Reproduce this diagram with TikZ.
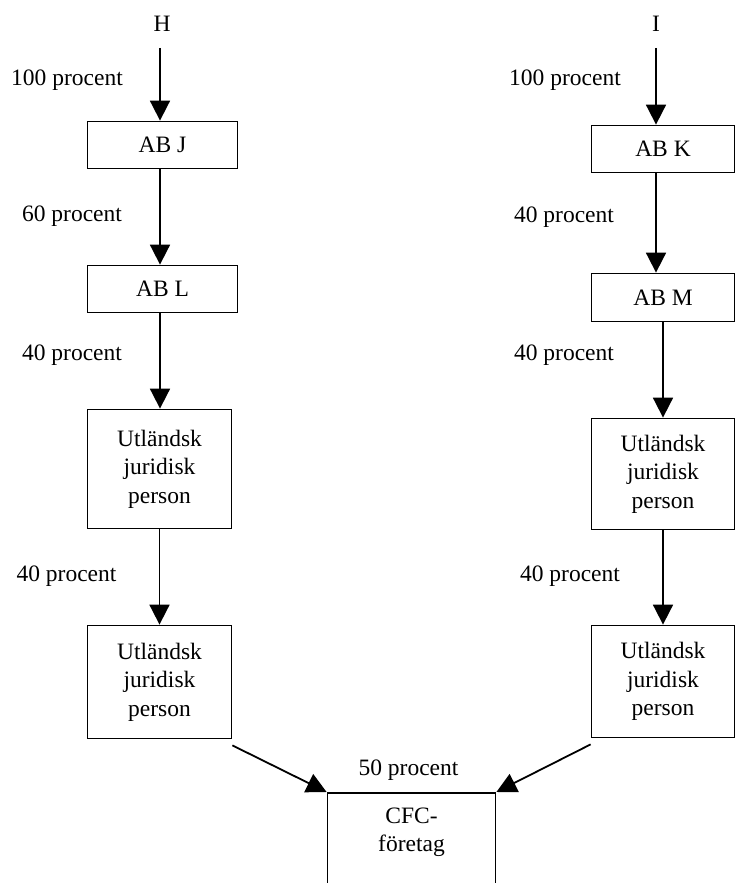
\documentclass[tikz,border=0pt]{standalone}
\usepackage{fontspec}
\setmainfont{Liberation Serif}
\usetikzlibrary{arrows.meta,calc}
\begin{document}
\begin{tikzpicture}[x=1pt,y=-1pt,
  every node/.style={font=\fontsize{23.5}{28.5}\selectfont},
  box/.style={draw,line width=1.8pt,inner sep=0pt,align=center},
  lbl/.style={inner sep=0pt,align=center},
  conn/.style={line width=1.8pt,-{Triangle[length=20pt,width=20pt]}}
]
\useasboundingbox (0,0) rectangle (736,883);
\clip (0,0) rectangle (736,883);

% top labels
\node[lbl] (h) at (162,24) {H};
\node[lbl] (i) at (656,24) {I};

% left column
\node[box,minimum width=150pt,minimum height=47pt] (abj) at (162.5,145) {AB J};
\node[box,minimum width=150pt,minimum height=47pt] (abl) at (162.5,289) {AB L};
\node[box,minimum width=144pt,minimum height=119pt] (ul1) at (159.5,469) {Utländsk\\juridisk\\person};
\node[box,minimum width=144pt,minimum height=113pt] (ul2) at (159.5,682) {Utländsk\\juridisk\\person};

% right column
\node[box,minimum width=143pt,minimum height=47pt] (abk) at (663,149) {AB K};
\node[box,minimum width=143pt,minimum height=48pt] (abm) at (663,297.5) {AB M};
\node[box,minimum width=143pt,minimum height=111pt] (ur1) at (663,474) {Utländsk\\juridisk\\person};
\node[box,minimum width=143pt,minimum height=112pt] (ur2) at (663,681.5) {Utländsk\\juridisk\\person};

% CFC box (runs off the bottom)
\node[box,minimum width=168pt,minimum height=200pt,anchor=north] (cfc) at (411.5,792) {};
\node[lbl] (cfct) at (411.5,832) {CFC-\\företag};

% percentage labels
\node[lbl] (p1) at (67,80) {100 procent};
\node[lbl] (p2) at (72,216) {60 procent};
\node[lbl] (p3) at (72,355) {40 procent};
\node[lbl] (p4) at (66.5,576) {40 procent};
\node[lbl] (p5) at (565,80) {100 procent};
\node[lbl] (p6) at (564,217) {40 procent};
\node[lbl] (p7) at (564,355) {40 procent};
\node[lbl] (p8) at (570,576) {40 procent};
\node[lbl] (p9) at (408.5,770) {50 procent};

% connectors left
\coordinate (hs) at ($(h)+(-2,24)$);
\draw[conn] (hs) -- (hs |- abj.north);
\draw[conn] (abj.south -| hs) -- (abl.north -| hs);
\draw[conn] (abl.south -| hs) -- (ul1.north -| hs);
\draw[conn] (ul1.south) -- (ul2.north);

% connectors right
\coordinate (is) at ($(i)+(0,24)$);
\draw[conn] (is) -- (is |- abk.north);
\draw[conn] (abk.south -| is) -- (abm.north -| is);
\draw[conn] (abm.south) -- (ur1.north);
\draw[conn] (ur1.south) -- (ur2.north);

% diagonals
\draw[conn] ($(ul2.south east)+(0,6)$) -- (cfc.north west);
\draw[conn] ($(ur2.south west)+(0,6)$) -- (cfc.north east);
\end{tikzpicture}
\end{document}
